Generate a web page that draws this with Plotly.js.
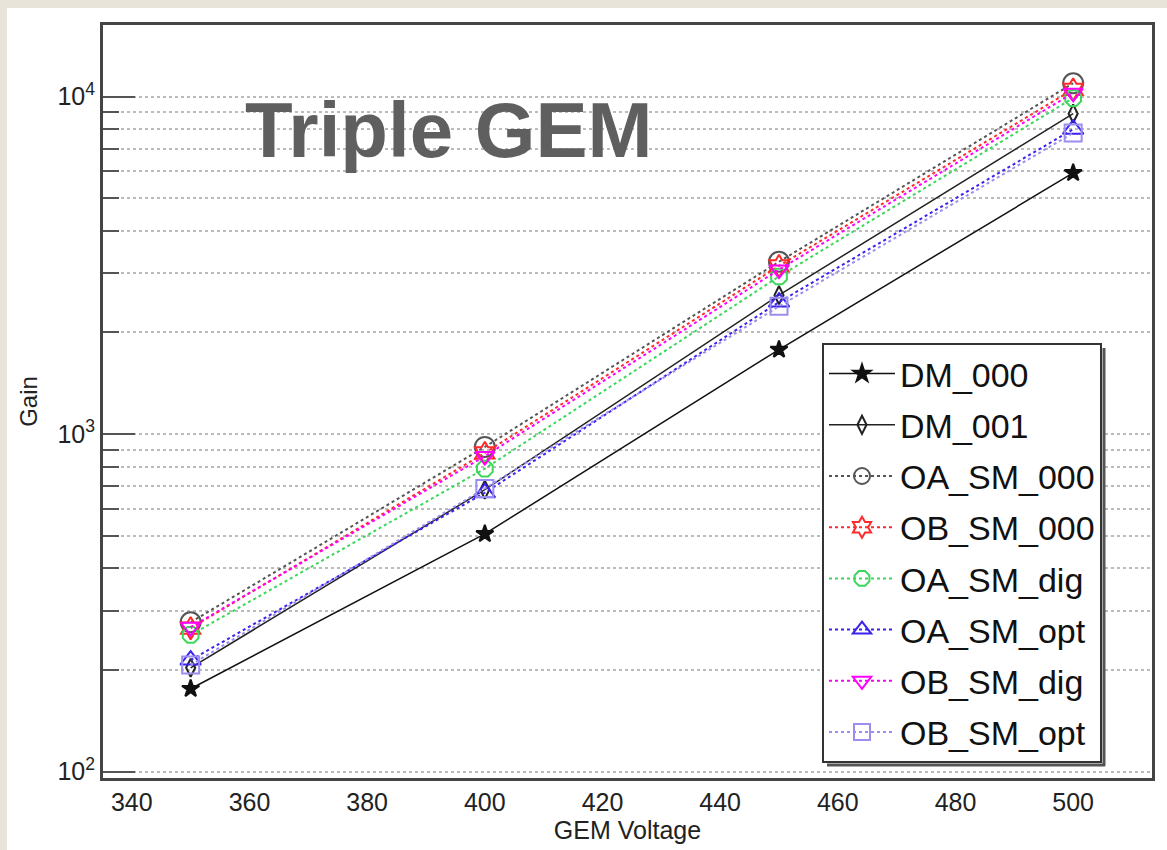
<!DOCTYPE html>
<html>
<head>
<meta charset="utf-8">
<script src="https://cdn.plot.ly/plotly-3.0.1.min.js"></script>
<style>
html,body{margin:0;padding:0;background:#e8e4d9;width:1167px;height:850px;overflow:hidden;}
#chart{position:absolute;left:7px;top:8px;width:1160px;height:842px;background:#fff;}
</style>
</head>
<body>
<div id="chart"></div>
<script>
const voltage = [350, 400, 450, 500];
const seriesNames = ["DM_000","DM_001","OA_SM_000","OB_SM_000","OA_SM_dig","OA_SM_opt","OB_SM_dig","OB_SM_opt"];
const DM_000     = [176, 506, 1780, 5940];
const DM_001     = [203, 684, 2580, 8900];
const OA_SM_000  = [277, 916, 3240, 10950];
const OB_SM_000  = [266, 879, 3150, 10500];
const OA_SM_dig  = [254, 790, 2930, 9900];
const OA_SM_opt  = [214, 670, 2460, 8000];
const OB_SM_dig  = [268, 860, 3070, 10250];
const OB_SM_opt  = [207, 690, 2390, 7800];
const yMajorTicks = [100, 1000, 10000];
const yMajorText = ["10<sup>2</sup>","10<sup>3</sup>","10<sup>4</sup>"];
const xTicks = [340,360,380,400,420,440,460,480,500];

const values = [DM_000, DM_001, OA_SM_000, OB_SM_000, OA_SM_dig, OA_SM_opt, OB_SM_dig, OB_SM_opt];
const styles = [
  {color:"#111111", symbol:"star", size:13, dash:"solid", lw:1.5},
  {color:"#222222", symbol:"diamond-tall-open", size:13, dash:"solid", lw:1.5},
  {color:"#555555", symbol:"circle-open", size:20, dash:"dot", lw:2},
  {color:"#ff2a2a", symbol:"hexagram-open", size:17, dash:"dot", lw:2},
  {color:"#3cd65a", symbol:"octagon-open", size:17, dash:"dot", lw:2},
  {color:"#3a22f0", symbol:"triangle-up-open", size:18, dash:"dot", lw:2},
  {color:"#ff00ff", symbol:"triangle-down-open", size:17, dash:"dot", lw:2},
  {color:"#9a8ef0", symbol:"square-open", size:17, dash:"dot", lw:2}
];

const minorVals = [];
[100,1000,10000].forEach(d => { for (let k=2;k<=9;k++) minorVals.push(k*d); });

const traces = seriesNames.map((n,i) => ({
  x: voltage, y: values[i], name: n, type: "scatter", mode: "lines+markers",
  legendgroup: n,
  line: {color: styles[i].color, width: styles[i].lw, dash: styles[i].dash},
  marker: {symbol: styles[i].symbol, size: styles[i].size, color: styles[i].color,
           line: {color: styles[i].color, width: 2}}
}));

// paper coordinate helpers (page pixels -> paper fractions)
const px = x => (x - 7 - 96) / 1049;
const py = y => (770 - (y - 8)) / 753;

const layout = {
  width: 1160, height: 842,
  paper_bgcolor: "#ffffff", plot_bgcolor: "#ffffff",
  margin: {l: 96, r: 15, t: 17, b: 72},
  font: {family: "Liberation Sans, Arial, sans-serif", color: "#222"},
  showlegend: true,
  legend: {
    x: px(822), y: py(343), xanchor: "left", yanchor: "top",
    bgcolor: "#ffffff", bordercolor: "#333", borderwidth: 2,
    font: {size: 34, color: "#111", family: "Liberation Sans, Arial, sans-serif"},
    tracegroupgap: 4, traceorder: "grouped",
    itemwidth: 66
  },
  xaxis: {
    range: [335.1, 513.4], tickvals: xTicks, ticks: "", showgrid: false,
    showline: true, linecolor: "#444", linewidth: 3, mirror: true,
    tickfont: {size: 25, color: "#222"}, zeroline: false,
    title: {text: "GEM Voltage", font: {size: 25, color: "#222"}, standoff: 4}
  },
  yaxis: {
    type: "log", range: [1.981, 4.212],
    tickvals: yMajorTicks, ticktext: yMajorText,
    ticks: "inside", ticklen: 32, tickwidth: 2, tickcolor: "#555",
    showgrid: true, gridcolor: "#bbbbbb", griddash: "dot", gridwidth: 2,
    minor: {tickvals: minorVals, ticks: "inside", ticklen: 16, tickwidth: 2, tickcolor: "#555",
            showgrid: true, gridcolor: "#bbbbbb", griddash: "dot", gridwidth: 2},
    showline: true, linecolor: "#444", linewidth: 3, mirror: true,
    tickfont: {size: 25, color: "#222"}, zeroline: false,
    title: {text: "Gain", font: {size: 24, color: "#222"}, standoff: 14}
  },
  annotations: [{
    xref: "paper", yref: "paper", x: px(243), y: py(130), xanchor: "left", yanchor: "middle",
    text: "<b>Triple GEM</b>", showarrow: false,
    font: {size: 78, color: "#5f5f5f", family: "Liberation Sans, Arial, sans-serif"}
  }]
};

Plotly.newPlot("chart", traces, layout, {displayModeBar: false, staticPlot: true}).then(gd => {
  // legend drop shadow, placed from the rendered legend box
  const bg = gd.querySelector(".legend .bg");
  if (!bg) return;
  const r = bg.getBoundingClientRect();
  const cr = gd.getBoundingClientRect();
  const L = r.left - cr.left, T = r.top - cr.top, R = r.right - cr.left, B = r.bottom - cr.top;
  const fx = v => (v - 96) / 1049, fy = v => (770 - v) / 753;
  const off = 4;
  Plotly.relayout(gd, {shapes: [
    {type: "line", xref: "paper", yref: "paper", x0: fx(R + off - 1), x1: fx(R + off - 1), y0: fy(T + off), y1: fy(B + off),
     line: {color: "#555", width: 3}, layer: "above"},
    {type: "line", xref: "paper", yref: "paper", x0: fx(L + off), x1: fx(R + off), y0: fy(B + off - 1), y1: fy(B + off - 1),
     line: {color: "#555", width: 3}, layer: "above"}
  ]});
});
</script>
</body>
</html>
